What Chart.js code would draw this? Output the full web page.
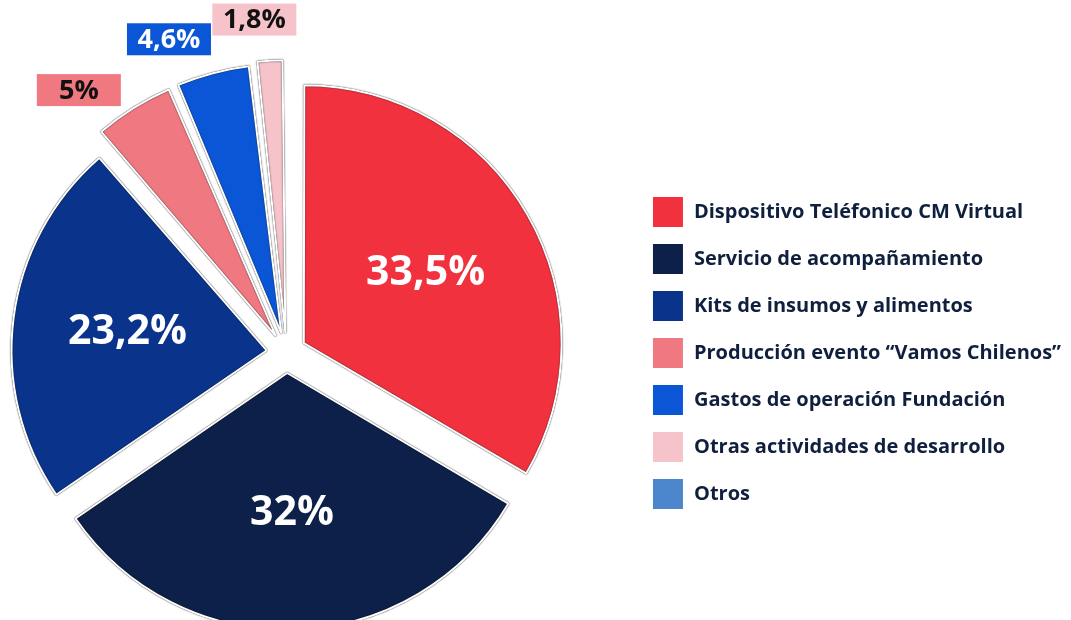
<!DOCTYPE html>
<html>
<head>
<meta charset="utf-8">
<script src="https://cdn.jsdelivr.net/npm/chart.js@4.4.1/dist/chart.umd.min.js"></script>
<style>
    html, body { margin: 0; padding: 0; background: #fff; overflow: hidden; }
    #contenedor { position: absolute; left: -64px; top: 0; width: 1135px; height: 620px; }
</style>
</head>
<body>
<div id="contenedor"><canvas id="grafico-torta"></canvas></div>
<script>
// Datos del gráfico
const categorias = [
    'Dispositivo Teléfonico CM Virtual',
    'Servicio de acompañamiento',
    'Kits de insumos y alimentos',
    'Producción evento “Vamos Chilenos”',
    'Gastos de operación Fundación',
    'Otras actividades de desarrollo',
    'Otros'
];
const porcentajes = [33.5, 32, 23.2, 5, 4.6, 1.8, 0];
const etiquetas = ['33,5%', '32%', '23,2%', '5%', '4,6%', '1,8%', ''];
const colores = ['#f2313f', '#0c2049', '#0a348b', '#ef7881', '#0b56d6', '#f5c3c9', '#4c86cd'];

// Etiquetas de porcentaje dibujadas sobre cada porción
const etiquetasPlugin = {
    id: 'etiquetas',
    beforeDatasetsDraw(chart) {
        // contorno oscuro alrededor de las porciones
        const ctx = chart.ctx;
        ctx.save();
        ctx.shadowColor = 'rgba(0, 0, 0, 1)';
        ctx.shadowBlur = 1.2;
    },
    afterDatasetsDraw(chart) {
        const ctx = chart.ctx;
        ctx.restore();
        const meta = chart.getDatasetMeta(0);
        meta.data.forEach((arc, i) => {
            const texto = etiquetas[i];
            if (!texto) return;
            const medio = (arc.startAngle + arc.endAngle) / 2;
            const desp = (arc.options.offset || 0) / 4;
            ctx.save();
            ctx.textAlign = 'center';
            ctx.textBaseline = 'middle';
            if (porcentajes[i] > 10) {
                const d = desp + arc.outerRadius * 0.55;
                ctx.font = 'bold 41px "Open Sans"';
                ctx.fillStyle = '#ffffff';
                ctx.fillText(texto, arc.x + Math.cos(medio) * d, arc.y + Math.sin(medio) * d);
            } else {
                // porciones pequeñas: etiqueta en recuadro fuera del círculo
                const a = arc.startAngle + (arc.endAngle - arc.startAngle) * 0.15;
                const d = arc.outerRadius + 80;
                const x = arc.x + Math.cos(a) * d;
                const y = arc.y + Math.sin(a) * d;
                ctx.font = 'bold 27px "Open Sans"';
                const w = Math.max(ctx.measureText(texto).width + 16, 84);
                const h = 32;
                ctx.fillStyle = colores[i];
                ctx.fillRect(x - w / 2, y - h / 2, w, h);
                ctx.fillStyle = i === 4 ? '#ffffff' : '#111111';
                ctx.fillText(texto, x, y + 1);
            }
            ctx.restore();
        });
    }
};

const ctx = document.getElementById('grafico-torta').getContext('2d');
new Chart(ctx, {
    type: 'pie',
    data: {
        labels: categorias,
        datasets: [{
            data: porcentajes,
            backgroundColor: colores,
            borderColor: '#ffffff',
            borderWidth: 2,
            offset: 80,
            radius: 255
        }]
    },
    options: {
        responsive: true,
        maintainAspectRatio: false,
        animation: false,
        layout: { padding: { top: 86, right: 0, bottom: 0, left: 0 } },
        plugins: {
            legend: {
                position: 'right',
                labels: {
                    boxWidth: 32,
                    boxHeight: 32,
                    padding: 15,
                    color: '#0f1f3d',
                    font: { family: '"Open Sans"', size: 20, weight: 'bold' }
                }
            },
            tooltip: { enabled: false }
        }
    },
    plugins: [etiquetasPlugin]
});
</script>
</body>
</html>
